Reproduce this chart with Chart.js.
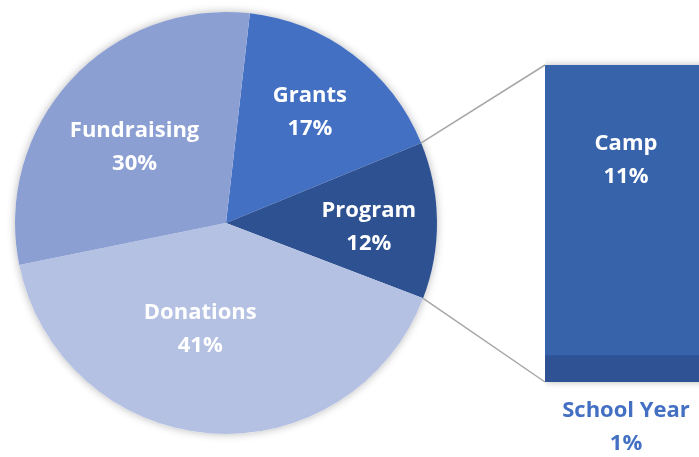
<!DOCTYPE html>
<html>
<head>
<meta charset="utf-8">
<script src="https://cdn.jsdelivr.net/npm/chart.js@4"></script>
<style>
  html, body { margin: 0; padding: 0; background: #fff; overflow: hidden; }
  #wrap { position: relative; width: 699px; height: 457px; overflow: hidden; }
  #bar { position: absolute; left: 545px; top: 0; }
  #pie { position: absolute; left: 0; top: 0; }
</style>
</head>
<body>
<div id="wrap">
  <canvas id="bar" width="162" height="457"></canvas>
  <canvas id="pie" width="699" height="457"></canvas>
</div>
<script>
// pie-of-bar: main pie + stacked bar that breaks down "Program"
const pieLabels = ['Grants', 'Program', 'Donations', 'Fundraising'];
const pieValues = [17, 12, 41, 30];
const pieColors = ['#4470c4', '#2d5191', '#b4c1e2', '#8c9fd3'];

const barLabels = ['School Year', 'Camp'];   // bottom -> top
const barValues = [1, 11];
const barColors = ['#2e5294', '#3763ab'];

const FONT = '"Open Sans", "Noto Sans", sans-serif';
const GREY_LINE = '#a6a6a6';

// label nudges (px) relative to the slice's mid-angle point
const pieLabelNudge = [[5, -7], [12, 5], [-15, -25], [5, 12]];

function drawTwoLines(ctx, x, y, a, b, color) {
  ctx.save();
  ctx.fillStyle = color;
  ctx.font = 'bold 22px ' + FONT;
  ctx.textAlign = 'center';
  ctx.textBaseline = 'middle';
  ctx.fillText(a, x, y - 16);
  ctx.fillText(b, x, y + 17);
  ctx.restore();
}

// bar chart first so the pie plugin can read its geometry
const barChart = new Chart(document.getElementById('bar'), {
  type: 'bar',
  data: {
    labels: ['Program'],
    datasets: barLabels.map((l, i) => ({
      label: l,
      data: [barValues[i]],
      backgroundColor: barColors[i],
      borderWidth: 0,
      barPercentage: 1,
      categoryPercentage: 1,
    })),
  },
  options: {
    responsive: false,
    animation: false,
    layout: { padding: { top: 65, bottom: 75, left: 0, right: 0 } },
    scales: {
      x: { display: false, stacked: true },
      y: { display: false, stacked: true, min: 0, max: 12 },
    },
    plugins: { legend: { display: false }, tooltip: { enabled: false } },
  },
  plugins: [{
    id: 'barDeco',
    beforeDatasetsDraw(chart) {
      const ctx = chart.ctx;
      const a = chart.chartArea;
      ctx.save();
      ctx.shadowColor = 'rgba(0,0,0,0.28)';
      ctx.shadowBlur = 7;
      ctx.fillStyle = '#fff';
      ctx.fillRect(a.left, a.top, a.right - a.left + 20, a.bottom - a.top);
      ctx.restore();
    },
    afterDatasetsDraw(chart) {
      const ctx = chart.ctx;
      const top = chart.getDatasetMeta(1).data[0];
      const bot = chart.getDatasetMeta(0).data[0];
      drawTwoLines(ctx, top.x, top.y + 95, barLabels[1], barValues[1] + '%', '#fff');
      drawTwoLines(ctx, bot.x, bot.base + 45, barLabels[0], barValues[0] + '%', '#4470c4');
    },
  }],
});

new Chart(document.getElementById('pie'), {
  type: 'pie',
  data: {
    labels: pieLabels,
    datasets: [{
      data: pieValues,
      backgroundColor: pieColors,
      borderWidth: 0,
    }],
  },
  options: {
    responsive: false,
    animation: false,
    rotation: 6.5,
    layout: { padding: { left: 15, top: 12, right: 262, bottom: 23 } },
    plugins: { legend: { display: false }, tooltip: { enabled: false } },
  },
  plugins: [{
    id: 'pieDeco',
    beforeDatasetsDraw(chart) {
      const arc = chart.getDatasetMeta(0).data[0];
      const ctx = chart.ctx;
      ctx.save();
      ctx.shadowColor = 'rgba(0,0,0,0.28)';
      ctx.shadowBlur = 8;
      ctx.fillStyle = '#fff';
      ctx.beginPath();
      ctx.arc(arc.x, arc.y, arc.outerRadius, 0, Math.PI * 2);
      ctx.fill();
      ctx.restore();
    },
    afterDatasetsDraw(chart) {
      const ctx = chart.ctx;
      const arcs = chart.getDatasetMeta(0).data;
      // connector lines from the "Program" slice edges to the bar corners
      const prog = arcs[1];
      const b = barChart.chartArea;
      const off = 545;
      const p1 = [prog.x + prog.outerRadius * Math.cos(prog.startAngle), prog.y + prog.outerRadius * Math.sin(prog.startAngle)];
      const p2 = [prog.x + prog.outerRadius * Math.cos(prog.endAngle), prog.y + prog.outerRadius * Math.sin(prog.endAngle)];
      ctx.save();
      ctx.strokeStyle = GREY_LINE;
      ctx.lineWidth = 1.5;
      ctx.beginPath();
      ctx.moveTo(p1[0], p1[1]); ctx.lineTo(off + b.left, b.top);
      ctx.moveTo(p2[0], p2[1]); ctx.lineTo(off + b.left, b.bottom);
      ctx.stroke();
      ctx.restore();
      arcs.forEach((a, i) => {
        const mid = (a.startAngle + a.endAngle) / 2;
        const r = a.outerRadius * 0.62;
        const x = a.x + r * Math.cos(mid) + pieLabelNudge[i][0];
        const y = a.y + r * Math.sin(mid) + pieLabelNudge[i][1];
        drawTwoLines(ctx, x, y, pieLabels[i], pieValues[i] + '%', '#fff');
      });
    },
  }],
});
</script>
</body>
</html>
